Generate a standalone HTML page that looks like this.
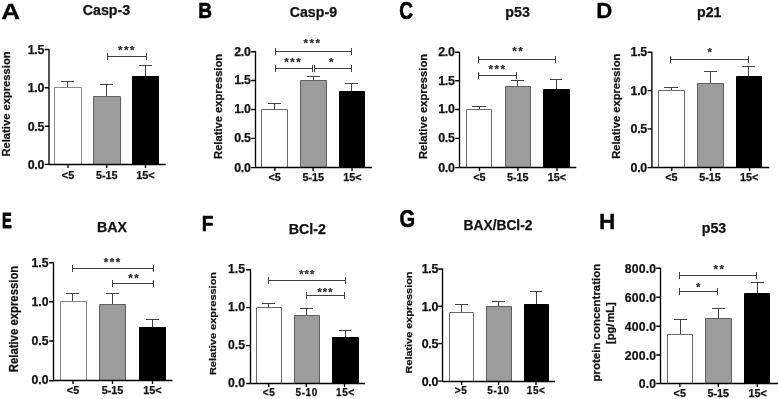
<!DOCTYPE html>
<html><head><meta charset="utf-8"><title>Figure</title>
<style>html,body{margin:0;padding:0;background:#fff}svg{display:block}</style></head>
<body>
<svg width="778" height="399" viewBox="0 0 778 399" font-family='"Liberation Sans", sans-serif' font-weight="bold" stroke="#111" stroke-width="0.25" stroke-linejoin="round">
<rect width="778" height="399" fill="#fff" stroke="none"/>
<g>
<text transform="translate(1.37 18.5) scale(1.159 1)" font-size="22.5" fill="#000" stroke="#000" stroke-width="0.30" vector-effect="non-scaling-stroke">A</text>
<text x="106.5" y="15.1" font-size="14.2" text-anchor="middle" fill="#111">Casp-3</text>
<path d="M67.5 87.5V81.5M61 81.5H74" stroke="#444" stroke-width="1" fill="none"/>
<rect x="54.5" y="87.5" width="27.0" height="77.0" fill="#fff" stroke="#8c8c8c" stroke-width="1"/>
<path d="M106.5 96.5V84.5M100 84.5H113" stroke="#444" stroke-width="1" fill="none"/>
<rect x="93.5" y="96.5" width="27.0" height="68.0" fill="#9c9c9c" stroke="#606060" stroke-width="1"/>
<path d="M145.5 76.5V65.5M139 65.5H152" stroke="#444" stroke-width="1" fill="none"/>
<rect x="132.5" y="76.5" width="26.0" height="88.0" fill="#000" stroke="#000" stroke-width="1"/>
<path d="M49.0 49.0V164.5H165.75M44.7 49.5H49.0M44.7 87.7H49.0M44.7 126.2H49.0M44.7 164.4H49.0M68 164.5V168.0M106.75 164.5V168.0M145.5 164.5V168.0" stroke="#000" stroke-width="1.35" fill="none"/>
<text transform="translate(44.00 54.00) scale(1 1)" font-size="12.4" letter-spacing="-0.3" text-anchor="end" fill="#111">1.5</text>
<text transform="translate(44.00 92.20) scale(1 1)" font-size="12.4" letter-spacing="-0.3" text-anchor="end" fill="#111">1.0</text>
<text transform="translate(44.00 130.70) scale(1 1)" font-size="12.4" letter-spacing="-0.3" text-anchor="end" fill="#111">0.5</text>
<text transform="translate(44.00 168.90) scale(1 1)" font-size="12.4" letter-spacing="-0.3" text-anchor="end" fill="#111">0.0</text>
<text x="68.0" y="178.55" font-size="10.8" letter-spacing="0" text-anchor="middle" fill="#111">&lt;5</text>
<text x="106.75" y="178.55" font-size="10.8" letter-spacing="0" text-anchor="middle" fill="#111">5-15</text>
<text x="145.5" y="178.55" font-size="10.8" letter-spacing="0" text-anchor="middle" fill="#111">15&lt;</text>
<text transform="translate(10 104) rotate(-90) scale(1 1)" font-size="11.2" text-anchor="middle" fill="#111">Relative expression</text>
<path d="M107.5 56.5H146.5M107.5 53.0V60.0M146.5 53.0V60.0" stroke="#404040" stroke-width="1" fill="none"/>
<text x="126.95" y="54.35" font-size="11.5" text-anchor="middle" fill="#333" letter-spacing="1.5">***</text>
</g>
<g>
<text transform="translate(198.37 18) scale(0.845 1)" font-size="22.5" fill="#000" stroke="#000" stroke-width="0.53" vector-effect="non-scaling-stroke">B</text>
<text x="313.4" y="17" font-size="14.2" text-anchor="middle" fill="#111">Casp-9</text>
<path d="M274.5 109.5V103.5M268 103.5H281" stroke="#444" stroke-width="1" fill="none"/>
<rect x="261.5" y="109.5" width="26.0" height="58.0" fill="#fff" stroke="#6a6a6a" stroke-width="1"/>
<path d="M313.5 80.5V76.5M307 76.5H320" stroke="#444" stroke-width="1" fill="none"/>
<rect x="300.5" y="80.5" width="26.0" height="87.0" fill="#9c9c9c" stroke="#606060" stroke-width="1"/>
<path d="M351.5 91.5V83.5M345 83.5H358" stroke="#444" stroke-width="1" fill="none"/>
<rect x="339.5" y="91.5" width="25.0" height="76.0" fill="#000" stroke="#000" stroke-width="1"/>
<path d="M255.5 51.25V167.5H372M251.2 51.75H255.5M251.2 80.5H255.5M251.2 109.5H255.5M251.2 138.4H255.5M251.2 167.6H255.5M274.9 167.5V171.0M313.1 167.5V171.0M352 167.5V171.0" stroke="#000" stroke-width="1.35" fill="none"/>
<text transform="translate(250.50 55.65) scale(1 1)" font-size="12.4" letter-spacing="-0.3" text-anchor="end" fill="#111">2.0</text>
<text transform="translate(250.50 84.40) scale(1 1)" font-size="12.4" letter-spacing="-0.3" text-anchor="end" fill="#111">1.5</text>
<text transform="translate(250.50 113.40) scale(1 1)" font-size="12.4" letter-spacing="-0.3" text-anchor="end" fill="#111">1.0</text>
<text transform="translate(250.50 142.30) scale(1 1)" font-size="12.4" letter-spacing="-0.3" text-anchor="end" fill="#111">0.5</text>
<text transform="translate(250.50 171.50) scale(1 1)" font-size="12.4" letter-spacing="-0.3" text-anchor="end" fill="#111">0.0</text>
<text x="274.7" y="181.0" font-size="10.8" letter-spacing="0" text-anchor="middle" fill="#111">&lt;5</text>
<text x="313.3" y="181.0" font-size="10.8" letter-spacing="0" text-anchor="middle" fill="#111">5-15</text>
<text x="352.3" y="181.0" font-size="10.8" letter-spacing="0" text-anchor="middle" fill="#111">15&lt;</text>
<text transform="translate(222 106.4) rotate(-90) scale(1 1)" font-size="11.2" text-anchor="middle" fill="#111">Relative expression</text>
<path d="M275.5 51.5H351.5M275.5 48.0V55.0M351.5 48.0V55.0" stroke="#404040" stroke-width="1" fill="none"/>
<text x="312.5" y="47.2" font-size="11.5" text-anchor="middle" fill="#333" letter-spacing="1.5">***</text>
<path d="M275.5 68.5H312.5M275.5 65.0V72.0M312.5 65.0V72.0" stroke="#404040" stroke-width="1" fill="none"/>
<text x="293.25" y="65.95" font-size="11.5" text-anchor="middle" fill="#333" letter-spacing="1.5">***</text>
<path d="M314.5 68.5H351.5M314.5 65.0V72.0M351.5 65.0V72.0" stroke="#404040" stroke-width="1" fill="none"/>
<text x="332.0" y="65.95" font-size="11.5" text-anchor="middle" fill="#333" letter-spacing="1.5">*</text>
</g>
<g>
<text transform="translate(399.17 18.6) scale(0.799 1)" font-size="23.8" fill="#000" stroke="#000" stroke-width="0.60" vector-effect="non-scaling-stroke">C</text>
<text x="517.6" y="17" font-size="14.2" text-anchor="middle" fill="#111">p53</text>
<path d="M479.5 109.5V106.5M472 106.5H486" stroke="#444" stroke-width="1" fill="none"/>
<rect x="466.5" y="109.5" width="25.0" height="58.0" fill="#fff" stroke="#6a6a6a" stroke-width="1"/>
<path d="M517.5 86.5V80.5M511 80.5H524" stroke="#444" stroke-width="1" fill="none"/>
<rect x="505.5" y="86.5" width="25.0" height="81.0" fill="#9c9c9c" stroke="#606060" stroke-width="1"/>
<path d="M556.5 89.5V79.5M550 79.5H562" stroke="#444" stroke-width="1" fill="none"/>
<rect x="543.5" y="89.5" width="26.0" height="78.0" fill="#000" stroke="#000" stroke-width="1"/>
<path d="M459.5 51.75V167.5H576.25M455.2 52.25H459.5M455.2 80.75H459.5M455.2 109.5H459.5M455.2 138.4H459.5M455.2 167.6H459.5M479.5 167.5V171.0M517.9 167.5V171.0M557 167.5V171.0" stroke="#000" stroke-width="1.35" fill="none"/>
<text transform="translate(454.50 56.15) scale(1 1)" font-size="12.4" letter-spacing="-0.3" text-anchor="end" fill="#111">2.0</text>
<text transform="translate(454.50 84.65) scale(1 1)" font-size="12.4" letter-spacing="-0.3" text-anchor="end" fill="#111">1.5</text>
<text transform="translate(454.50 113.40) scale(1 1)" font-size="12.4" letter-spacing="-0.3" text-anchor="end" fill="#111">1.0</text>
<text transform="translate(454.50 142.30) scale(1 1)" font-size="12.4" letter-spacing="-0.3" text-anchor="end" fill="#111">0.5</text>
<text transform="translate(454.50 171.50) scale(1 1)" font-size="12.4" letter-spacing="-0.3" text-anchor="end" fill="#111">0.0</text>
<text x="479.4" y="181.0" font-size="10.8" letter-spacing="0" text-anchor="middle" fill="#111">&lt;5</text>
<text x="517.7" y="181.0" font-size="10.8" letter-spacing="0" text-anchor="middle" fill="#111">5-15</text>
<text x="557.0" y="181.0" font-size="10.8" letter-spacing="0" text-anchor="middle" fill="#111">15&lt;</text>
<text transform="translate(426.5 106.5) rotate(-90) scale(1 1)" font-size="11.2" text-anchor="middle" fill="#111">Relative expression</text>
<path d="M478.5 59.5H555.5M478.5 56.0V63.0M555.5 56.0V63.0" stroke="#404040" stroke-width="1" fill="none"/>
<text x="518.25" y="54.95" font-size="11.5" text-anchor="middle" fill="#333" letter-spacing="1.5">**</text>
<path d="M478.5 75.5H516.5M478.5 72.0V79.0M516.5 72.0V79.0" stroke="#404040" stroke-width="1" fill="none"/>
<text x="497.5" y="73.45" font-size="11.5" text-anchor="middle" fill="#333" letter-spacing="1.5">***</text>
</g>
<g>
<text transform="translate(596.28 18) scale(0.988 1)" font-size="22.5" fill="#000" stroke="#000" stroke-width="0.32" vector-effect="non-scaling-stroke">D</text>
<text x="709.25" y="17" font-size="14.2" text-anchor="middle" fill="#111">p21</text>
<path d="M671.5 90.5V87.5M664 87.5H678" stroke="#444" stroke-width="1" fill="none"/>
<rect x="658.5" y="90.5" width="26.0" height="77.0" fill="#fff" stroke="#6a6a6a" stroke-width="1"/>
<path d="M710.5 83.5V71.5M704 71.5H717" stroke="#444" stroke-width="1" fill="none"/>
<rect x="697.5" y="83.5" width="26.0" height="84.0" fill="#9c9c9c" stroke="#606060" stroke-width="1"/>
<path d="M748.5 76.5V66.5M742 66.5H755" stroke="#444" stroke-width="1" fill="none"/>
<rect x="736.5" y="76.5" width="25.0" height="91.0" fill="#000" stroke="#000" stroke-width="1"/>
<path d="M651.9 51.75V167.5H769.25M647.6 52.25H651.9M647.6 90.6H651.9M647.6 128.9H651.9M647.6 167.6H651.9M671.8 167.5V171.0M710.6 167.5V171.0M749.6 167.5V171.0" stroke="#000" stroke-width="1.35" fill="none"/>
<text transform="translate(646.90 56.15) scale(1 1)" font-size="12.4" letter-spacing="-0.3" text-anchor="end" fill="#111">1.5</text>
<text transform="translate(646.90 94.50) scale(1 1)" font-size="12.4" letter-spacing="-0.3" text-anchor="end" fill="#111">1.0</text>
<text transform="translate(646.90 132.80) scale(1 1)" font-size="12.4" letter-spacing="-0.3" text-anchor="end" fill="#111">0.5</text>
<text transform="translate(646.90 171.50) scale(1 1)" font-size="12.4" letter-spacing="-0.3" text-anchor="end" fill="#111">0.0</text>
<text x="671.3" y="181.0" font-size="10.8" letter-spacing="0" text-anchor="middle" fill="#111">&lt;5</text>
<text x="710.0" y="181.0" font-size="10.8" letter-spacing="0" text-anchor="middle" fill="#111">5-15</text>
<text x="749.2" y="181.0" font-size="10.8" letter-spacing="0" text-anchor="middle" fill="#111">15&lt;</text>
<text transform="translate(619.5 106.25) rotate(-90) scale(1 1)" font-size="11.2" text-anchor="middle" fill="#111">Relative expression</text>
<path d="M670.5 59.5H748.5M670.5 56.0V63.0M748.5 56.0V63.0" stroke="#404040" stroke-width="1" fill="none"/>
<text x="710.5" y="55.650000000000006" font-size="11.5" text-anchor="middle" fill="#333" letter-spacing="1.5">*</text>
</g>
<g>
<text transform="translate(2.06 227.8) scale(0.650 1)" font-size="22.5" fill="#000" stroke="#000" stroke-width="0.83" vector-effect="non-scaling-stroke">E</text>
<text x="112" y="231.9" font-size="14.2" text-anchor="middle" fill="#111">BAX</text>
<path d="M72.5 301.5V293.5M66 293.5H79" stroke="#444" stroke-width="1" fill="none"/>
<rect x="60.5" y="301.5" width="26.0" height="79.0" fill="#fff" stroke="#858585" stroke-width="1"/>
<path d="M112.5 304.5V293.5M106 293.5H119" stroke="#444" stroke-width="1" fill="none"/>
<rect x="99.5" y="304.5" width="26.0" height="76.0" fill="#9c9c9c" stroke="#606060" stroke-width="1"/>
<path d="M152.5 327.5V319.5M146 319.5H159" stroke="#444" stroke-width="1" fill="none"/>
<rect x="139.5" y="327.5" width="26.0" height="53.0" fill="#000" stroke="#000" stroke-width="1"/>
<path d="M53.5 262.25V380.5H172.5M49.2 262.75H53.5M49.2 301.75H53.5M49.2 341H53.5M49.2 380.7H53.5M73 380.5V384.0M112.5 380.5V384.0M152.5 380.5V384.0" stroke="#000" stroke-width="1.35" fill="none"/>
<text transform="translate(48.50 266.50) scale(1 1)" font-size="12.2" letter-spacing="0" text-anchor="end" fill="#111">1.5</text>
<text transform="translate(48.50 305.50) scale(1 1)" font-size="12.2" letter-spacing="0" text-anchor="end" fill="#111">1.0</text>
<text transform="translate(48.50 344.75) scale(1 1)" font-size="12.2" letter-spacing="0" text-anchor="end" fill="#111">0.5</text>
<text transform="translate(48.50 384.45) scale(1 1)" font-size="12.2" letter-spacing="0" text-anchor="end" fill="#111">0.0</text>
<text x="73.0" y="393.8" font-size="10.8" letter-spacing="0" text-anchor="middle" fill="#111">&lt;5</text>
<text x="112.5" y="393.8" font-size="10.8" letter-spacing="0" text-anchor="middle" fill="#111">5-15</text>
<text x="152.5" y="393.8" font-size="10.8" letter-spacing="0" text-anchor="middle" fill="#111">15&lt;</text>
<text transform="translate(17.9 319) rotate(-90) scale(1 1.1)" font-size="11.35" text-anchor="middle" fill="#111">Relative expression</text>
<path d="M72.5 268.5H153.5M72.5 265.0V272.0M153.5 265.0V272.0" stroke="#404040" stroke-width="1" fill="none"/>
<text x="112.75" y="265.7" font-size="11.5" text-anchor="middle" fill="#333" letter-spacing="1.5">***</text>
<path d="M112.5 283.5H153.5M112.5 280.0V287.0M153.5 280.0V287.0" stroke="#404040" stroke-width="1" fill="none"/>
<text x="134.25" y="281.95" font-size="11.5" text-anchor="middle" fill="#333" letter-spacing="1.5">**</text>
</g>
<g>
<text transform="translate(201.68 231) scale(0.843 1)" font-size="22.5" fill="#000" stroke="#000" stroke-width="0.53" vector-effect="non-scaling-stroke">F</text>
<text x="307.25" y="234" font-size="14.2" text-anchor="middle" fill="#111">BCl-2</text>
<path d="M268.5 307.5V303.5M262 303.5H275" stroke="#444" stroke-width="1" fill="none"/>
<rect x="256.5" y="307.5" width="25.0" height="76.0" fill="#fff" stroke="#6a6a6a" stroke-width="1"/>
<path d="M306.5 315.5V308.5M300 308.5H313" stroke="#444" stroke-width="1" fill="none"/>
<rect x="294.5" y="315.5" width="25.0" height="68.0" fill="#9c9c9c" stroke="#606060" stroke-width="1"/>
<path d="M345.5 337.5V330.5M339 330.5H351" stroke="#444" stroke-width="1" fill="none"/>
<rect x="332.5" y="337.5" width="26.0" height="46.0" fill="#000" stroke="#000" stroke-width="1"/>
<path d="M250.5 269.25V383.5H365M246.2 269.75H250.5M246.2 307.67H250.5M246.2 345.6H250.5M246.2 383.5H250.5M268.75 383.5V387.0M306.25 383.5V387.0M344.5 383.5V387.0" stroke="#000" stroke-width="1.35" fill="none"/>
<text transform="translate(245.00 273.40) scale(1.0 1)" font-size="12.2" letter-spacing="0" text-anchor="end" fill="#111">1.5</text>
<text transform="translate(245.00 311.32) scale(1.0 1)" font-size="12.2" letter-spacing="0" text-anchor="end" fill="#111">1.0</text>
<text transform="translate(245.00 349.25) scale(1.0 1)" font-size="12.2" letter-spacing="0" text-anchor="end" fill="#111">0.5</text>
<text transform="translate(245.00 387.15) scale(1.0 1)" font-size="12.2" letter-spacing="0" text-anchor="end" fill="#111">0.0</text>
<text x="269.05" y="395.90000000000003" font-size="10" letter-spacing="0.6" text-anchor="middle" fill="#111">&lt;5</text>
<text x="306.7" y="395.90000000000003" font-size="10" letter-spacing="0.6" text-anchor="middle" fill="#111">5-10</text>
<text x="345.40000000000003" y="395.90000000000003" font-size="10" letter-spacing="0.6" text-anchor="middle" fill="#111">15&lt;</text>
<text transform="translate(216.3 323.5) rotate(-90) scale(1 0.85)" font-size="11.0" text-anchor="middle" fill="#111">Relative expression</text>
<path d="M268.5 280.5H345.5M268.5 277.0V284.0M345.5 277.0V284.0" stroke="#404040" stroke-width="1" fill="none"/>
<text x="307.25" y="278.05" font-size="11" text-anchor="middle" fill="#333" letter-spacing="1.0">***</text>
<path d="M306.5 295.5H344.5M306.5 292.0V299.0M344.5 292.0V299.0" stroke="#404040" stroke-width="1" fill="none"/>
<text x="325.5" y="296.25" font-size="11" text-anchor="middle" fill="#333" letter-spacing="1.0">***</text>
</g>
<g>
<text transform="translate(399.52 227.4) scale(0.832 1)" font-size="24.2" fill="#000" stroke="#000" stroke-width="0.55" vector-effect="non-scaling-stroke">G</text>
<text x="498" y="230.25" font-size="13.75" text-anchor="middle" fill="#111">BAX/BCl-2</text>
<path d="M461.5 312.5V304.5M455 304.5H468" stroke="#444" stroke-width="1" fill="none"/>
<rect x="449.5" y="312.5" width="24.0" height="69.0" fill="#fff" stroke="#6a6a6a" stroke-width="1"/>
<path d="M498.5 306.5V301.5M492 301.5H505" stroke="#444" stroke-width="1" fill="none"/>
<rect x="486.5" y="306.5" width="25.0" height="75.0" fill="#9c9c9c" stroke="#606060" stroke-width="1"/>
<path d="M536.5 304.5V291.5M530 291.5H542" stroke="#444" stroke-width="1" fill="none"/>
<rect x="524.5" y="304.5" width="24.0" height="77.0" fill="#000" stroke="#000" stroke-width="1"/>
<path d="M442.5 268.5V381.5H555M438.2 269H442.5M438.2 306.25H442.5M438.2 343.6H442.5M438.2 381.1H442.5M461.6 381.5V385.0M498.6 381.5V385.0M536 381.5V385.0" stroke="#000" stroke-width="1.35" fill="none"/>
<text transform="translate(438.00 273.45) scale(1 1)" font-size="12.4" letter-spacing="-0.3" text-anchor="end" fill="#111">1.5</text>
<text transform="translate(438.00 310.70) scale(1 1)" font-size="12.4" letter-spacing="-0.3" text-anchor="end" fill="#111">1.0</text>
<text transform="translate(438.00 348.05) scale(1 1)" font-size="12.4" letter-spacing="-0.3" text-anchor="end" fill="#111">0.5</text>
<text transform="translate(438.00 385.55) scale(1 1)" font-size="12.4" letter-spacing="-0.3" text-anchor="end" fill="#111">0.0</text>
<text x="461.025" y="393.7" font-size="10" letter-spacing="0.55" text-anchor="middle" fill="#111">&gt;5</text>
<text x="498.47499999999997" y="393.7" font-size="10" letter-spacing="0.55" text-anchor="middle" fill="#111">5-10</text>
<text x="536.175" y="393.7" font-size="10" letter-spacing="0.55" text-anchor="middle" fill="#111">15&lt;</text>
<text transform="translate(411.6 322.5) rotate(-90) scale(1 0.88)" font-size="10.85" text-anchor="middle" fill="#111">Relative expression</text>
</g>
<g>
<text transform="translate(599.02 229) scale(1.004 1)" font-size="22.5" fill="#000" stroke="#000" stroke-width="0.30" vector-effect="non-scaling-stroke">H</text>
<text x="714" y="233.25" font-size="14.2" text-anchor="middle" fill="#111">p53</text>
<path d="M680.5 334.5V319.5M674 319.5H687" stroke="#444" stroke-width="1" fill="none"/>
<rect x="667.5" y="334.5" width="25.0" height="49.0" fill="#fff" stroke="#6a6a6a" stroke-width="1"/>
<path d="M718.5 318.5V308.5M712 308.5H725" stroke="#444" stroke-width="1" fill="none"/>
<rect x="705.5" y="318.5" width="26.0" height="65.0" fill="#9c9c9c" stroke="#606060" stroke-width="1"/>
<path d="M757.5 293.5V282.5M751 282.5H764" stroke="#444" stroke-width="1" fill="none"/>
<rect x="744.5" y="293.5" width="25.0" height="90.0" fill="#000" stroke="#000" stroke-width="1"/>
<path d="M660.5 267.75V383.5H778M656.2 268.25H660.5M656.2 297.25H660.5M656.2 326.25H660.5M656.2 355H660.5M656.2 383.5H660.5M679.9 383.5V387.0M718.3 383.5V387.0M757.3 383.5V387.0" stroke="#000" stroke-width="1.35" fill="none"/>
<text transform="translate(656.20 273.15) scale(0.925 1)" font-size="13.2" letter-spacing="0.2" text-anchor="end" fill="#111">800.0</text>
<text transform="translate(656.20 302.15) scale(0.925 1)" font-size="13.2" letter-spacing="0.2" text-anchor="end" fill="#111">600.0</text>
<text transform="translate(656.20 331.15) scale(0.925 1)" font-size="13.2" letter-spacing="0.2" text-anchor="end" fill="#111">400.0</text>
<text transform="translate(656.20 359.90) scale(0.925 1)" font-size="13.2" letter-spacing="0.2" text-anchor="end" fill="#111">200.0</text>
<text transform="translate(656.20 388.40) scale(0.925 1)" font-size="13.2" letter-spacing="0.2" text-anchor="end" fill="#111">0.0</text>
<text x="679.75" y="397.2" font-size="10.8" letter-spacing="0" text-anchor="middle" fill="#111">&lt;5</text>
<text x="718.2" y="397.2" font-size="10.8" letter-spacing="0" text-anchor="middle" fill="#111">5-15</text>
<text x="757.6" y="397.2" font-size="10.8" letter-spacing="0" text-anchor="middle" fill="#111">15&lt;</text>
<text transform="translate(600.3 322.6) rotate(-90) scale(1 1)" font-size="11.45" text-anchor="middle" fill="#111">protein concentration</text>
<text transform="translate(613.8 323.1) rotate(-90) scale(1 1)" font-size="11.45" text-anchor="middle" fill="#111"><tspan font-size="11.1">[pg/<tspan dx="1.1">mL]</tspan></tspan></text>
<path d="M679.5 275.5H756.5M679.5 272.0V279.0M756.5 272.0V279.0" stroke="#404040" stroke-width="1" fill="none"/>
<text x="719.5" y="272.95" font-size="11.5" text-anchor="middle" fill="#333" letter-spacing="1.5">**</text>
<path d="M679.5 291.5H717.5M679.5 288.0V295.0M717.5 288.0V295.0" stroke="#404040" stroke-width="1" fill="none"/>
<text x="699.05" y="291.2" font-size="11.5" text-anchor="middle" fill="#333" letter-spacing="1.5">*</text>
</g>
</svg>
</body></html>
